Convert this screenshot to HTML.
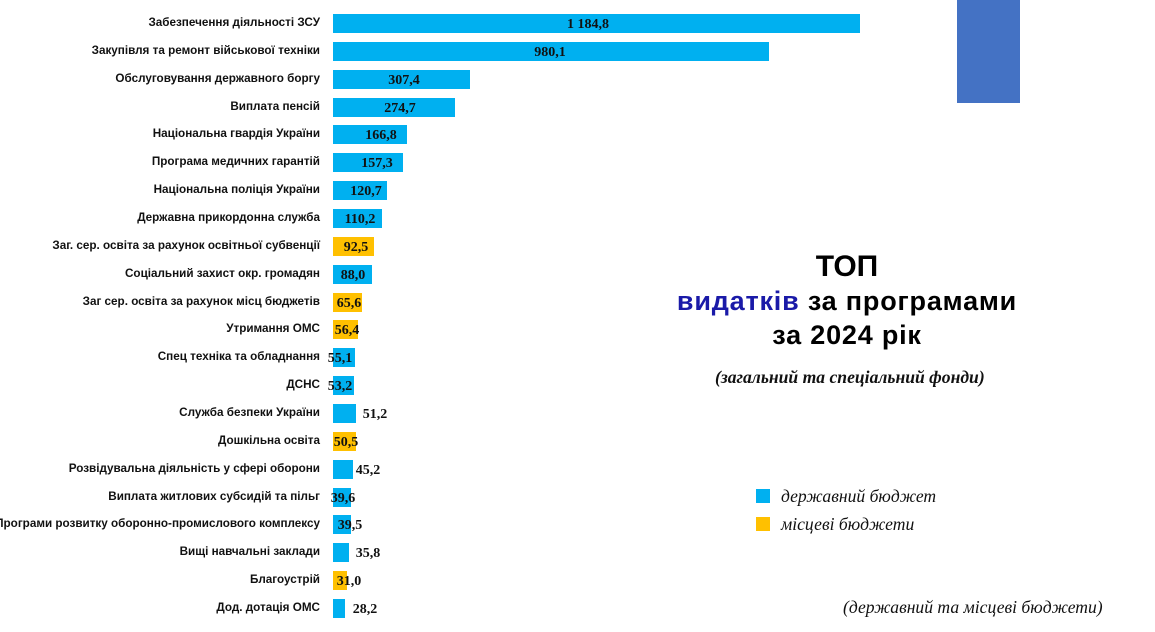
<!DOCTYPE html>
<html><head><meta charset="utf-8"><style>
body{margin:0;width:1155px;height:632px;background:#fff;position:relative;overflow:hidden;font-family:"Liberation Sans",sans-serif}
.l{position:absolute;right:835px;font-weight:bold;font-size:11.7px;color:#111;white-space:nowrap;line-height:16px}
.b{position:absolute;left:333px;height:19px}
.v{position:absolute;font-family:"Liberation Serif",serif;font-weight:bold;font-size:14px;color:#111;transform:translateX(-50%);line-height:18px}
.a{position:absolute;font-weight:bold;text-align:center;width:500px;left:597px;white-space:nowrap}
.i{position:absolute;font-family:"Liberation Serif",serif;font-style:italic;font-size:17.6px;color:#111;white-space:nowrap}
</style></head><body>
<div style="position:absolute;left:957px;top:0;width:63px;height:103px;background:#4472c4"></div>
<div id="c"></div>
<div class="a" style="top:250px;font-size:30px">ТОП</div>
<div class="a" style="top:286px;font-size:27px;letter-spacing:0.8px"><span style="color:#1a1aa8">видатків</span> за програмами</div>
<div class="a" style="top:320px;font-size:27px;letter-spacing:0.8px">за 2024 рік</div>
<div class="i" style="left:715px;top:367px;font-weight:bold">(загальний та спеціальний фонди)</div>
<div style="position:absolute;left:756px;top:489px;width:14px;height:14px;background:#00b0f0"></div>
<div style="position:absolute;left:756px;top:517px;width:14px;height:14px;background:#ffc000"></div>
<div class="i" style="left:781px;top:486px">державний бюджет</div>
<div class="i" style="left:781px;top:514px">місцеві бюджети</div>
<div class="i" style="left:843px;top:597px">(державний та місцеві бюджети)</div>
<script>
const d=[["Забезпечення діяльності ЗСУ",860,"1 184,8",588,0],["Закупівля та ремонт військової техніки",769,"980,1",550,0],["Обслуговування державного боргу",470,"307,4",404,0],["Виплата пенсій",455,"274,7",400,0],["Національна гвардія України",407,"166,8",381,0],["Програма медичних гарантій",403,"157,3",377,0],["Національна поліція України",387,"120,7",366,0],["Державна прикордонна служба",382,"110,2",360,0],["Заг. сер. освіта за рахунок освітньої субвенції",374,"92,5",356,1],["Соціальний захист окр. громадян",372,"88,0",353,0],["Заг сер. освіта за рахунок місц бюджетів",362,"65,6",349,1],["Утримання ОМС",358,"56,4",347,1],["Спец техніка та обладнання",355,"55,1",340,0],["ДСНС",354,"53,2",340,0],["Служба безпеки України",356,"51,2",375,0],["Дошкільна освіта",356,"50,5",346,1],["Розвідувальна діяльність у сфері оборони",353,"45,2",368,0],["Виплата житлових субсидій та пільг",351,"39,6",343,0],["Програми розвитку оборонно-промислового комплексу",351,"39,5",350,0],["Вищі навчальні заклади",349,"35,8",368,0],["Благоустрій",347,"31,0",349,1],["Дод. дотація ОМС",345,"28,2",365,0]];
let h="";d.forEach((r,i)=>{const y=14+i*27.86;
h+=`<div class="l" style="top:${y+1}px">${r[0]}</div><div class="b" style="top:${y}px;width:${r[1]-333}px;background:${r[4]?'#ffc000':'#00b0f0'}"></div><div class="v" style="left:${r[3]}px;top:${y+2}px">${r[2]}</div>`});
document.getElementById("c").innerHTML=h;
</script>
</body></html>
